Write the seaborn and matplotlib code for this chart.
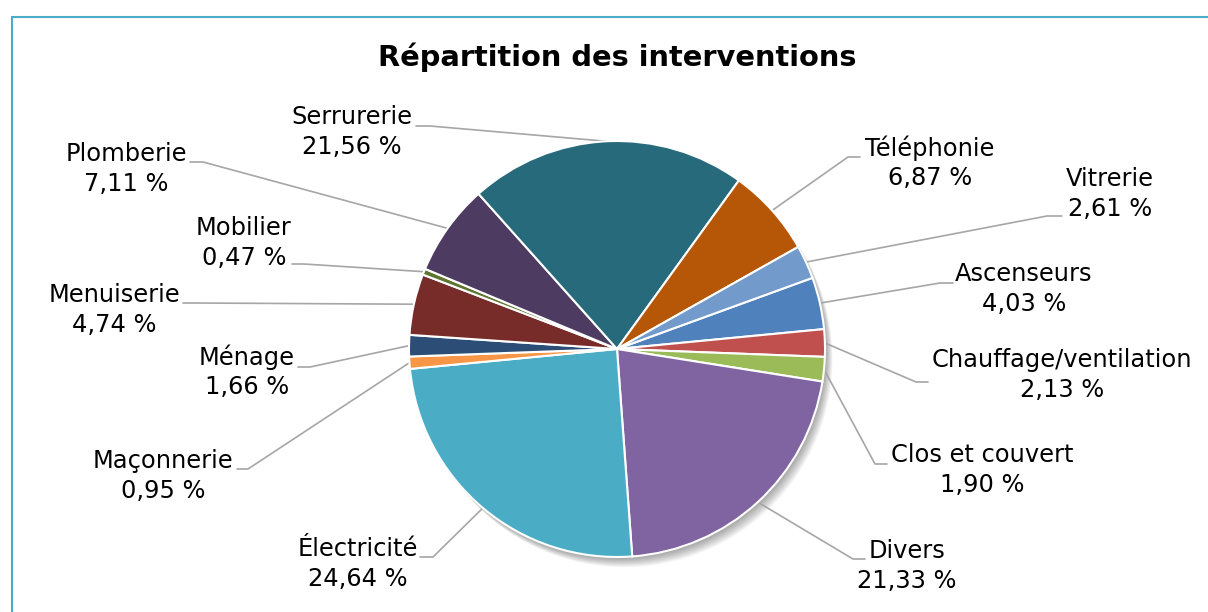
import numpy as np
import matplotlib.pyplot as plt
import seaborn as sns
from matplotlib.patches import Circle, Rectangle

categories = ['Ascenseurs', 'Chauffage/ventilation', 'Clos et couvert', 'Divers',
              'Électricité', 'Maçonnerie', 'Ménage', 'Menuiserie', 'Mobilier',
              'Plomberie', 'Serrurerie', 'Téléphonie', 'Vitrerie']
values = [4.03, 2.13, 1.90, 21.33, 24.64, 0.95, 1.66, 4.74, 0.47, 7.11, 21.56, 6.87, 2.61]
colors = ['#4F81BD', '#C0504D', '#9BBB59', '#8064A2', '#4BACC6', '#F79646', '#2C4D75',
          '#772C2A', '#5F7530', '#4D3B62', '#276A7C', '#B65708', '#729ACA']

# label layout in pixels: text centre (x, y), horizontal stub x0 -> x1 at y
label_layout = [
    (1024, 289, 953, 940, 283),
    (1062, 375, 928, 916, 382),
    (982, 470, 887, 875, 464),
    (907, 566, 865, 853, 559),
    (358, 564, 420, 433, 557),
    (163, 476, 237, 248, 469),
    (247, 372, 298, 310, 367),
    (114, 310, 183, 195, 303),
    (244, 243, 292, 304, 264),
    (126, 169, 190, 203, 162),
    (352, 132, 416, 430, 126),
    (930, 163, 860, 848, 157),
    (1110, 194, 1062, 1047, 216),
]

W, H = 1208, 612
CX, CY, R = 617, 349, 208


def px(x, y):
    return (x - CX) / R, (CY - y) / R


def fmt(v):
    return f'{v:.2f}'.replace('.', ',') + ' %'


sns.set_theme(style='white')
plt.rcParams['font.family'] = ['DejaVu Sans']

fig = plt.figure(figsize=(W / 100, H / 100), dpi=100)
ax = fig.add_axes([0, 0, 1, 1])

# soft shadow to the lower right of the pie
for i in range(12):
    ax.add_patch(Circle(((1 + i * 0.6) / R, -(1.5 + i * 0.8) / R), 1.0, color='black',
                        alpha=0.03, lw=0, zorder=0))

wedges, _ = ax.pie(values, colors=sns.color_palette(colors), startangle=20,
                   counterclock=False,
                   wedgeprops=dict(edgecolor='white', linewidth=1.5, zorder=2))

for w, cat, v, (tx, ty, x0, x1, ly) in zip(wedges, categories, values, label_layout):
    mid = np.deg2rad((w.theta1 + w.theta2) / 2)
    ax_, ay_ = np.cos(mid), np.sin(mid)
    p0 = px(x0, ly)
    p1 = px(x1, ly)
    ax.plot([p0[0], p1[0], ax_], [p0[1], p1[1], ay_], color='#A6A6A6', lw=1.2, zorder=1)
    t = px(tx, ty)
    ax.text(t[0], t[1], f'{cat}\n{fmt(v)}', ha='center', va='center',
            multialignment='center', fontsize=17.4, linespacing=1.27, color='black')

ax.set_aspect('equal')
ax.set_xlim(-CX / R, (W - CX) / R)
ax.set_ylim(-(H - CY) / R, CY / R)
ax.axis('off')

fig.text(617 / W, 1 - 57 / H, 'Répartition des interventions', ha='center', va='center',
         fontsize=20.8, fontweight='bold', color='black')

fig.patches.append(Rectangle((12 / W, -0.1), 1.2, 1.1 - 17 / H, transform=fig.transFigure,
                             fill=False, edgecolor='#4BACC6', lw=1.5))

fig.savefig('out.png', dpi=100)
